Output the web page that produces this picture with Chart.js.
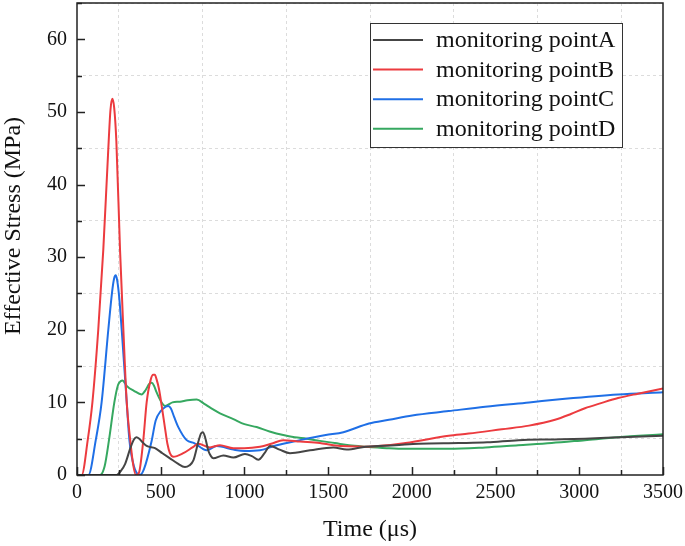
<!DOCTYPE html>
<html>
<head>
<meta charset="utf-8">
<script src="https://cdn.jsdelivr.net/npm/chart.js@4.4.0/dist/chart.umd.min.js"></script>
<style>
    html, body { margin: 0; padding: 0; background: #fff; }
</style>
</head>
<body>
<canvas id="myChart" width="685" height="546"></canvas>
<script>
// 시간(µs) - 응력(MPa), 측점별로 따로
const timeA = [0, 237, 260, 287, 320, 340, 355, 372, 392, 416, 466, 510, 555, 600, 645, 670, 695, 725, 740, 752, 765, 785, 800, 814, 874, 934, 1003, 1045, 1083, 1120, 1153, 1210, 1272, 1392, 1531, 1611, 1724, 1900, 2042, 2280, 2450, 2637, 2850, 3034, 3250, 3500];
const stressA = [0, 0, 0.5, 1.5, 3.8, 4.9, 5.2, 5.0, 4.5, 4.0, 3.7, 3.0, 2.3, 1.6, 1.1, 1.3, 2.0, 4.6, 5.7, 5.9, 5.2, 3.3, 2.6, 2.3, 2.7, 2.4, 2.9, 2.6, 2.1, 3.0, 4.0, 3.5, 3.0, 3.4, 3.8, 3.5, 3.9, 4.1, 4.3, 4.4, 4.5, 4.8, 4.9, 5.0, 5.2, 5.4];

const timeB = [0, 28, 64, 92, 127, 157, 185, 200, 211, 222, 235, 257, 277, 297, 318, 335, 352, 370, 396, 416, 440, 455, 465, 475, 490, 506, 526, 540, 555, 575, 635, 690, 725, 794, 854, 934, 1000, 1093, 1160, 1232, 1332, 1450, 1531, 1724, 1962, 2220, 2339, 2537, 2700, 2855, 2950, 3034, 3130, 3232, 3350, 3500];
const stressB = [0, 0, 4.8, 10, 20, 31, 44, 50.3, 51.8, 50.6, 46, 31, 20, 10, 4.8, 1.5, 0, 0.3, 4.8, 10, 13.1, 13.8, 13.8, 13.2, 11.8, 9.5, 6.4, 4.3, 3.0, 2.5, 3.0, 3.8, 4.3, 3.8, 4.1, 3.7, 3.7, 3.9, 4.3, 4.8, 4.6, 4.4, 4.1, 3.9, 4.4, 5.4, 5.7, 6.3, 6.8, 7.6, 8.4, 9.2, 9.9, 10.6, 11.2, 11.9];

const timeC = [0, 68, 112, 147, 187, 210, 222, 231, 240, 252, 267, 297, 313, 340, 376, 400, 445, 470, 500, 530, 545, 560, 580, 605, 655, 700, 775, 834, 934, 1000, 1093, 1193, 1332, 1486, 1591, 1744, 1863, 2002, 2220, 2438, 2700, 2915, 3232, 3500];
const stressC = [0, 0, 4.8, 10, 20, 25.3, 27.1, 27.5, 26.8, 24.5, 20, 10, 4.8, 1.2, 0, 0.8, 4.6, 7.5, 8.8, 9.4, 9.5, 9.2, 8.0, 6.6, 4.8, 4.4, 3.4, 4.0, 3.5, 3.3, 3.4, 4.1, 4.8, 5.5, 5.9, 7.1, 7.6, 8.2, 8.8, 9.4, 10.0, 10.5, 11.1, 11.4];

const timeD = [0, 137, 165, 191, 223, 245, 260, 272, 285, 300, 340, 386, 410, 430, 446, 460, 475, 500, 526, 570, 615, 660, 715, 760, 800, 854, 934, 1000, 1073, 1150, 1232, 1300, 1372, 1450, 1540, 1625, 1724, 1850, 1962, 2220, 2438, 2635, 2835, 3034, 3232, 3500];
const stressD = [0, 0, 1.2, 4.8, 10, 12.4, 12.9, 13.0, 12.7, 12.2, 11.6, 11.1, 11.7, 12.5, 12.7, 12.3, 11.4, 10.2, 9.5, 10.0, 10.1, 10.3, 10.4, 9.8, 9.2, 8.5, 7.7, 7.0, 6.6, 6.0, 5.5, 5.2, 5.0, 4.7, 4.4, 4.1, 3.9, 3.7, 3.6, 3.6, 3.8, 4.1, 4.4, 4.8, 5.2, 5.6];

const labels = ["monitoring pointA", "monitoring pointB", "monitoring pointC", "monitoring pointD"];
const colors = ["#454545", "#ec3b3f", "#1f6fe6", "#36a860"];

const xTickLabels = [0, 500, 1000, 1500, 2000, 2500, 3000, 3500];
const yTickLabels = [0, 10, 20, 30, 40, 50, 60];

const serif = "'Liberation Serif', 'Times New Roman', serif";

function toPoints(ts, vs){
    return ts.map((t, i) => ({x: t, y: vs[i]}));
}

// 안쪽 눈금 + 테두리 + 범례 + 세로축 제목
const framePlugin = {
    id: 'frame',
    afterDatasetsDraw(chart){
        const c = chart.ctx;
        const a = chart.chartArea;
        const xs = chart.scales.x, ys = chart.scales.y;
        c.save();
        c.strokeStyle = '#222';
        c.lineWidth = 1.5;
        c.beginPath();
        for (let v = 0; v <= 3500; v += 250){
            const px = Math.round(xs.getPixelForValue(v)) + 0.5;
            const len = v % 500 === 0 ? 8 : 5;
            c.moveTo(px, a.bottom); c.lineTo(px, a.bottom - len);
        }
        for (let v = 0; v <= 65; v += 5){
            const py = Math.round(ys.getPixelForValue(v)) + 0.5;
            const len = v % 10 === 0 ? 8 : 5;
            c.moveTo(a.left, py); c.lineTo(a.left + len, py);
        }
        c.stroke();
        c.strokeRect(a.left, a.top, a.right - a.left, a.bottom - a.top);

        // legend
        const lx = 370.5, ly = 23.5, lw = 252, lh = 124;
        c.fillStyle = '#fff';
        c.fillRect(lx, ly, lw, lh);
        c.lineWidth = 1;
        c.strokeStyle = '#333';
        c.strokeRect(lx, ly, lw, lh);
        c.font = "24px " + serif;
        c.textBaseline = 'middle';
        c.textAlign = 'left';
        chart.data.datasets.forEach((ds, i) => {
            const y = 40 + i * 29.6;
            c.strokeStyle = ds.borderColor;
            c.lineWidth = 2;
            c.beginPath(); c.moveTo(373, y); c.lineTo(423, y); c.stroke();
            c.fillStyle = '#111';
            c.fillText(ds.label, 436, y + 1);
        });

        // y title
        c.translate(14, 226);
        c.rotate(-Math.PI / 2);
        c.font = "24px " + serif;
        c.textAlign = 'center';
        c.textBaseline = 'middle';
        c.fillStyle = '#111';
        c.fillText('Effective Stress (MPa)', 0, 0);
        c.restore();
    }
};

const ctx = document.querySelector("#myChart");
new Chart(ctx, {
    type: 'line',
    data: {
        datasets: [
            {label: labels[0], data: toPoints(timeA, stressA), borderColor: colors[0]},
            {label: labels[1], data: toPoints(timeB, stressB), borderColor: colors[1]},
            {label: labels[2], data: toPoints(timeC, stressC), borderColor: colors[2]},
            {label: labels[3], data: toPoints(timeD, stressD), borderColor: colors[3]}
        ]
    },
    options: {
        responsive: false,
        animation: false,
        layout: {padding: {top: 3, right: 22, left: 0, bottom: 0}},
        elements: {
            point: {radius: 0},
            line: {borderWidth: 2, cubicInterpolationMode: 'monotone', fill: false}
        },
        plugins: {legend: {display: false}, tooltip: {enabled: false}},
        scales: {
            x: {
                type: 'linear', min: 0, max: 3500,
                afterFit: s => { s.height = 71; s.paddingLeft = 0; s.paddingRight = 0; },
                ticks: {
                    stepSize: 250, autoSkip: false, maxRotation: 0, padding: 6,
                    color: '#111', font: {family: serif, size: 20},
                    callback: v => xTickLabels.includes(v) ? String(v) : ''
                },
                grid: {
                    drawTicks: false, lineWidth: 1,
                    color: c => (c.tick && c.tick.value % 500 !== 0) ? '#dcdcdc' : 'rgba(0,0,0,0)'
                },
                border: {display: false, dash: [3, 3]},
                title: {display: true, text: 'Time (μs)', color: '#111', font: {family: serif, size: 24}, padding: {top: 0, bottom: 2}}
            },
            y: {
                min: 0, max: 65,
                afterFit: s => { s.width = 77; s.paddingTop = 0; s.paddingBottom = 0; },
                ticks: {
                    stepSize: 5, autoSkip: false, padding: 10,
                    color: '#111', font: {family: serif, size: 20},
                    callback: v => yTickLabels.includes(v) ? String(v) : ''
                },
                grid: {
                    drawTicks: false, lineWidth: 1,
                    color: c => (c.tick && c.tick.value % 10 !== 0) ? '#dcdcdc' : 'rgba(0,0,0,0)'
                },
                border: {display: false, dash: [3, 3]},
                title: {display: false}
            }
        }
    },
    plugins: [framePlugin]
});
</script>
</body>
</html>
